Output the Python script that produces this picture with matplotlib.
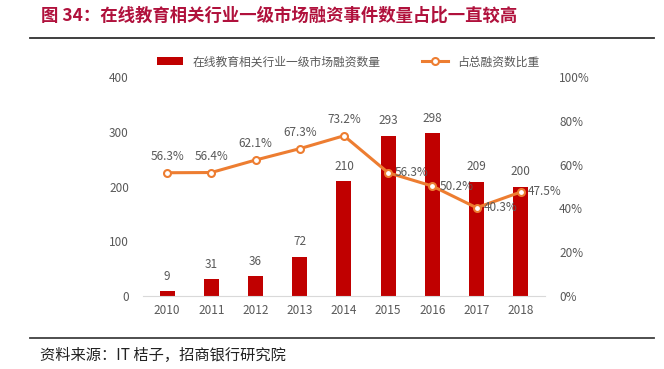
import matplotlib.pyplot as plt
import numpy as np

plt.rcParams['font.family'] = ['Noto Sans CJK SC', 'DejaVu Sans']

years = ['2010', '2011', '2012', '2013', '2014', '2015', '2016', '2017', '2018']
counts = [9, 31, 36, 72, 210, 293, 298, 209, 200]
share = [56.3, 56.4, 62.1, 67.3, 73.2, 56.3, 50.2, 40.3, 47.5]
bar_name = '在线教育相关行业一级市场融资数量'
line_name = '占总融资数比重'

bar_color = '#C00000'
line_color = '#ED7D31'
tick_color = '#595959'

fig = plt.figure(figsize=(6.64, 3.69), dpi=100)
ax = fig.add_axes([0.215, 0.198, 0.606, 0.593])
ax2 = ax.twinx()

x = np.arange(len(years))
bars = ax.bar(x, counts, width=0.34, color=bar_color, label=bar_name, zorder=2)
line, = ax2.plot(x, share, color=line_color, lw=2.2, marker='o', ms=5,
                 mfc='white', mec=line_color, mew=1.5, label=line_name, zorder=3)

ax.set_ylim(0, 400)
ax.set_yticks(range(0, 401, 100))
ax2.set_ylim(0, 100)
ax2.set_yticks(range(0, 101, 20))
ax2.set_yticklabels([f'{v}%' for v in range(0, 101, 20)])
ax.set_xlim(-0.55, len(years) - 0.45)
ax.set_xticks(x)
ax.set_xticklabels(years)

for a in (ax, ax2):
    for s in ('top', 'left', 'right'):
        a.spines[s].set_visible(False)
    a.spines['bottom'].set_color('#D9D9D9')
    a.tick_params(length=0, labelsize=8.5, colors=tick_color, pad=6)
ax2.spines['bottom'].set_visible(False)
ax.tick_params(axis='y', pad=10)
ax2.tick_params(axis='y', pad=10)

for xi, c in zip(x, counts):
    ax.annotate(str(c), (xi, c), xytext=(0, 6), textcoords='offset points',
                ha='center', va='bottom', fontsize=8.5, color=tick_color)

for i, (xi, s) in enumerate(zip(x, share)):
    if i < 5:
        ax2.annotate(f'{s}%', (xi, s), xytext=(0, 7), textcoords='offset points',
                     ha='center', va='bottom', fontsize=8.5, color=tick_color)
    else:
        ax2.annotate(f'{s}%', (xi, s), xytext=(5, 0), textcoords='offset points',
                     ha='left', va='center', fontsize=8.5, color=tick_color)

fig.legend(handles=[bars, line], loc='center', bbox_to_anchor=(0.525, 0.832), ncol=2,
           frameon=False, fontsize=8.5, columnspacing=3.5, handlelength=2.2,
           labelcolor=tick_color)

fig.text(0.062, 0.957, '图 34：在线教育相关行业一级市场融资事件数量占比一直较高',
         fontsize=12.5, fontweight='bold', color='#B0113C', va='center')
fig.add_artist(plt.Line2D([0.045, 0.985], [0.897, 0.897], color='#303030', lw=1.3))
fig.add_artist(plt.Line2D([0.045, 0.985], [0.084, 0.084], color='#404040', lw=1.3))
fig.text(0.06, 0.038, '资料来源：IT 桔子，招商银行研究院', fontsize=11, style='italic',
         color='#222222', va='center')

fig.savefig('out.png', dpi=100)
